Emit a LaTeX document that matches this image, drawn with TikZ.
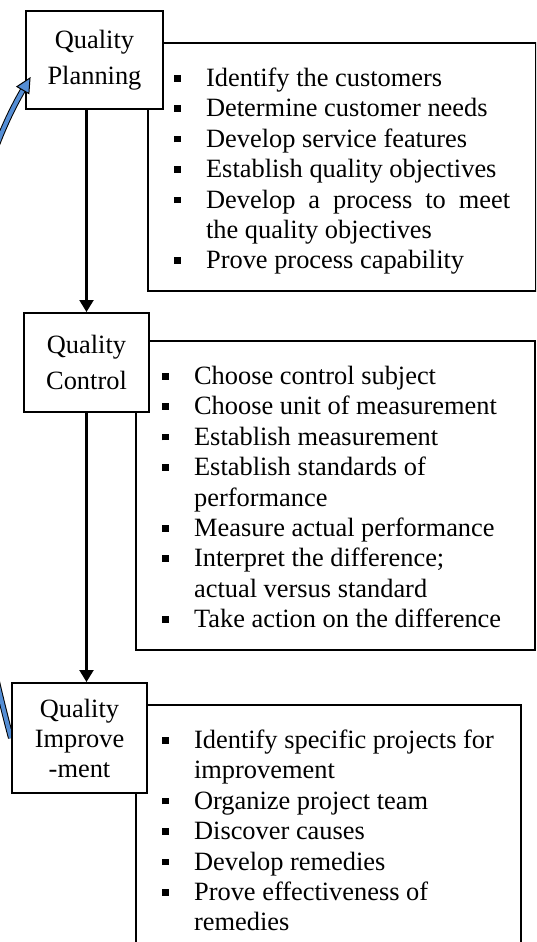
\documentclass[tikz,border=0pt]{standalone}
\usepackage{fontspec}
\setmainfont{Liberation Serif}
\usepackage{tikz}
\usetikzlibrary{arrows.meta, backgrounds}
\definecolor{loopblue}{RGB}{85,142,213}
\tikzstyle{stage} = [draw=black, fill=white, line width=1pt, inner sep=2pt, align=center, font=\fontsize{13.2}{18}\selectfont]
\tikzstyle{tasklist} = [draw=black, line width=1.1pt, anchor=north west, inner xsep=13pt, inner ysep=6.5pt, align=justify, font=\fontsize{13.2}{15.2}\selectfont]
\tikzstyle{arrow} = [line width=1.1pt, -{Triangle[length=6pt,width=7pt]}]
\newcommand{\taskitem}[1]{\par\hangindent=16pt\hangafter=1\noindent\makebox[16pt][l]{\rule[2.5pt]{3.3pt}{3.3pt}}\strut#1\strut\par}

\begin{document}
\begin{tikzpicture}[x=0.5pt, y=-0.5pt]
\useasboundingbox (0,0) rectangle (536,942);
\clip (0,0) rectangle (536,942);

% lists first, the stage boxes sit on top of them
\node[tasklist, text width=168pt, minimum height=120pt] (planlist) at (147,42) {
\taskitem{Identify the customers}
\taskitem{Determine customer needs}
\taskitem{Develop service features}
\taskitem{Establish quality objectives}
\taskitem{Develop a process to meet\linebreak the quality objectives}
\taskitem{Prove process capability}
};

\node[tasklist, text width=173.5pt, minimum height=149pt] (controllist) at (135,340) {
\taskitem{Choose control subject}
\taskitem{Choose unit of measurement}
\taskitem{Establish measurement}
\taskitem{Establish standards of\newline performance}
\taskitem{Measure actual performance}
\taskitem{Interpret the difference;\newline actual versus standard}
\taskitem{Take action on the difference}
};

\node[tasklist, text width=166.5pt] (improvelist) at (135,704) {
\taskitem{Identify specific projects for\newline improvement}
\taskitem{Organize project team}
\taskitem{Discover causes}
\taskitem{Develop remedies}
\taskitem{Prove effectiveness of\newline remedies}
};

\node[stage, minimum width=68.5pt, minimum height=49pt] (planning) at (94.5,60) {Quality\\Planning};
\node[stage, minimum width=62.5pt, minimum height=49.5pt] (control) at (86.5,362.5) {Quality\\Control};
\node[stage, minimum width=67.5pt, minimum height=55pt, font=\fontsize{13.2}{15}\selectfont] (improvement) at (79.5,738) {Quality\\Improve\\-ment};

\draw[arrow] (planning.south -| control.north) -- (control.north);
\draw[arrow] (control.south) -- (control.south |- improvement.north);

% feedback loop back to planning
\coordinate (looptip) at ([xshift=2.5pt,yshift=-9pt]planning.west);
\begin{scope}[on background layer]
\draw[line width=3pt, black, shorten >=6pt] (improvement.west) .. controls +(-60,-225) and +(-100,170) .. (looptip);
\draw[line width=2pt, loopblue, shorten >=6pt] (improvement.west) .. controls +(-60,-225) and +(-100,170) .. (looptip);
\end{scope}
\draw[line width=0.5pt, fill=loopblue, line join=miter] (looptip) -- ++(-1.1,15.6) -- ++(-12,-7) -- cycle;
\end{tikzpicture}
\end{document}
